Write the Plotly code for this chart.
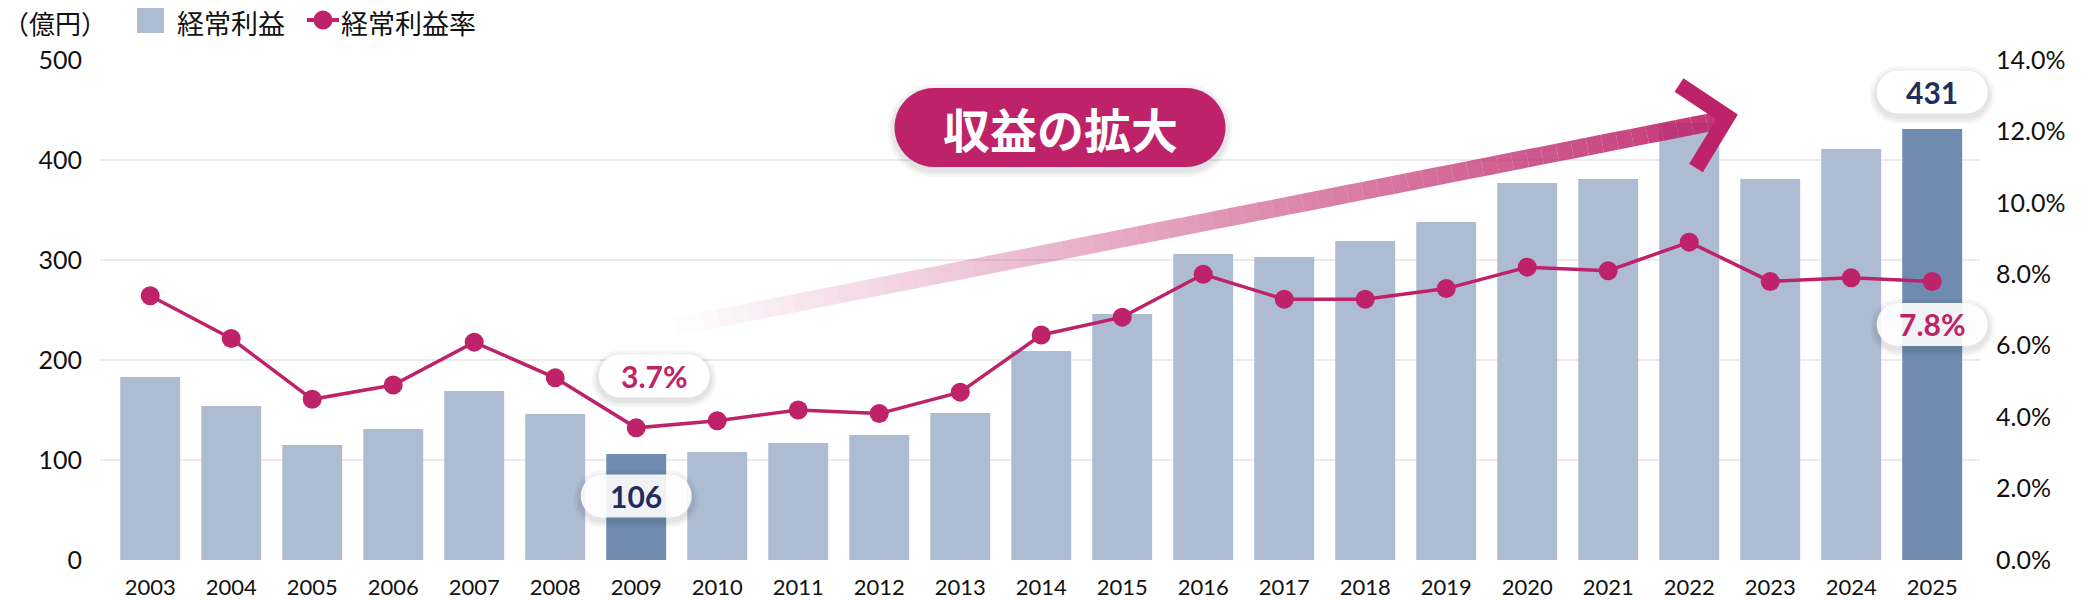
import numpy as np
import plotly.graph_objects as go

# ---- Données
years = [str(y) for y in range(2003, 2026)]
profit = [183, 154, 115, 131, 169, 146, 106, 108, 117, 125, 147, 209, 246,
          306, 303, 319, 338, 377, 381, 437, 381, 411, 431]
rate = [7.4, 6.2, 4.5, 4.9, 6.1, 5.1, 3.7, 3.9, 4.2, 4.1, 4.7, 6.3, 6.8,
        8.0, 7.3, 7.3, 7.6, 8.2, 8.1, 8.9, 7.8, 7.9, 7.8]
highlight = ['2009', '2025']

left_ticks = [0, 100, 200, 300, 400, 500]
right_ticks = [0, 2, 4, 6, 8, 10, 12, 14]
right_text = [f'{v:.1f}%' for v in right_ticks]

MAGENTA = '#BE2369'
NAVY = '#1F2D5C'
BAR = '#AEBCD3'
BAR_DARK = '#6F8CB0'
NUM_FONT = 'Lato, Noto Sans CJK JP, sans-serif'
JP_FONT = 'Noto Sans CJK JP, sans-serif'

# zone du graphique en pixels (coordonnées écran, la page ajoute 8 px de marge)
OFF = 8
W, H = 2100 - OFF, 600 - OFF
PL, PR, PT, PB = 100, 1980, 60, 560
XR = [-0.62, 22.59]


def paper(px, py):
    return (px - PL) / (PR - PL), (PB - py) / (PB - PT)


def xpix(i):
    return PL + (i - XR[0]) / (XR[1] - XR[0]) * (PR - PL)


def ypix_left(v):
    return PB - v / 500 * (PB - PT)


def ypix_right(p):
    return PB - p / 14 * (PB - PT)


def path_from(points):
    pts = [paper(x, y) for x, y in points]
    return 'M ' + ' L '.join(f'{a:.5f},{b:.5f}' for a, b in pts) + ' Z'


def pill_points(cx, cy, w, h):
    r = h / 2
    pts = []
    for a in np.linspace(-np.pi / 2, np.pi / 2, 24):
        pts.append((cx + w / 2 - r + r * np.cos(a), cy + r * np.sin(a)))
    for a in np.linspace(np.pi / 2, 3 * np.pi / 2, 24):
        pts.append((cx - w / 2 + r + r * np.cos(a), cy + r * np.sin(a)))
    return pts


shapes = []
annotations = []


def add_pill(cx, cy, w, h, color):
    # ombre
    for grow in [14, 9, 5]:
        shapes.append(dict(type='path', xref='paper', yref='paper', layer='above',
                           path=path_from(pill_points(cx, cy + 3, w + grow, h + grow)),
                           fillcolor='rgba(0,0,0,0.035)', line=dict(width=0)))
    shapes.append(dict(type='path', xref='paper', yref='paper', layer='above',
                       path=path_from(pill_points(cx, cy, w, h)),
                       fillcolor=color, line=dict(width=0)))


def text_at(px, py, txt, size, color, family, anchor='center'):
    x, y = paper(px, py)
    annotations.append(dict(xref='paper', yref='paper', x=x, y=y, text=txt,
                            xanchor=anchor, yanchor='middle', showarrow=False, borderpad=0,
                            font=dict(family=family, size=size, color=color)))


# ---- Flèche "収益の拡大"
start = np.array([674.0, 327.0])
end = np.array([1722.0, 120.0])
n_seg = 70
for k in range(n_seg):
    a = start + (end - start) * k / n_seg
    b = start + (end - start) * (k + 1) / n_seg
    alpha = 0.92 * (k + 0.5) / n_seg
    p0, p1 = paper(*a), paper(*b)
    shapes.append(dict(type='line', xref='paper', yref='paper', layer='above',
                       x0=p0[0], y0=p0[1], x1=p1[0], y1=p1[1],
                       line=dict(color=f'rgba(190,35,105,{alpha:.3f})', width=18)))

# pointe de la flèche (chevron)
A = np.array([1679.0, 85.0])
T = np.array([1727.0, 117.0])
B = np.array([1696.0, 168.0])
hw = 8.0
d1 = (T - A) / np.linalg.norm(T - A)
d2 = (B - T) / np.linalg.norm(B - T)
n1 = np.array([-d1[1], d1[0]])
n2 = np.array([-d2[1], d2[0]])
miter = (n1 + n2) / (1 + n1 @ n2)
head = [A + n1 * hw, T + miter * hw, B + n2 * hw, B - n2 * hw, T - miter * hw, A - n1 * hw]
shapes.append(dict(type='path', xref='paper', yref='paper', layer='above',
                   path=path_from([tuple(p) for p in head]),
                   fillcolor=MAGENTA, line=dict(width=0)))

# bulle titre
add_pill(1060, 127.5, 331, 79, MAGENTA)
text_at(1060, 127.5, '<b>収益の拡大</b>', 47, 'white', JP_FONT)

# ---- Etiquettes de valeurs
i09 = years.index('2009')
i25 = years.index('2025')
labels = [
    (xpix(i09), ypix_left(profit[i09]) + 42, f'{profit[i09]}', NAVY, 'rgba(255,255,255,0.9)'),
    (xpix(i09) + 18, ypix_right(rate[i09]) - 52, f'{rate[i09]:.1f}%', MAGENTA, 'white'),
    (xpix(i25), ypix_left(profit[i25]) - 37, f'{profit[i25]}', NAVY, 'white'),
    (xpix(i25), ypix_right(rate[i25]) + 43, f'{rate[i25]:.1f}%', MAGENTA, 'rgba(255,255,255,0.9)'),
]
for cx, cy, txt, col, bg in labels:
    add_pill(cx, cy, 111, 43, bg)
    text_at(cx, cy, f'<b>{txt}</b>', 30, col, NUM_FONT)

# ---- Légende manuelle
text_at(2, 23, '（億円）', 26, '#111', JP_FONT, anchor='left')
s0, s1 = paper(137, 6), paper(164, 33)
shapes.append(dict(type='rect', xref='paper', yref='paper', x0=s0[0], y0=s0[1], x1=s1[0], y1=s1[1],
                   fillcolor=BAR, line=dict(width=0)))
text_at(176, 23, '経常利益', 27, '#111', JP_FONT, anchor='left')
l0, l1 = paper(307, 20), paper(339, 20)
shapes.append(dict(type='line', xref='paper', yref='paper', x0=l0[0], y0=l0[1], x1=l1[0], y1=l1[1],
                   line=dict(color=MAGENTA, width=4)))
c0, c1 = paper(313.5, 10.5), paper(332.5, 29.5)
shapes.append(dict(type='circle', xref='paper', yref='paper', x0=c0[0], y0=c0[1], x1=c1[0], y1=c1[1],
                   fillcolor=MAGENTA, line=dict(width=0)))
text_at(340, 23, '経常利益率', 27, '#111', JP_FONT, anchor='left')

# ---- Graphique
bar_colors = [BAR_DARK if y in highlight else BAR for y in years]

fig = go.Figure()
fig.add_trace(go.Bar(x=years, y=profit, marker=dict(color=bar_colors, line=dict(width=0)),
                     name='経常利益', hoverinfo='x+y'))
fig.add_trace(go.Scatter(x=years, y=rate, yaxis='y2', mode='lines+markers', name='経常利益率',
                         line=dict(color=MAGENTA, width=3.5),
                         marker=dict(color=MAGENTA, size=19)))

fig.update_layout(
    template='none',
    width=W, height=H,
    margin=dict(l=PL - OFF, r=W - (PR - OFF), t=PT - OFF, b=H - (PB - OFF), autoexpand=False),
    plot_bgcolor='white', paper_bgcolor='white',
    showlegend=False,
    bargap=0.26,
    font=dict(family=NUM_FONT, color='#111'),
    xaxis=dict(type='category', range=XR, showgrid=False, zeroline=False, showline=False,
               automargin=False, ticks='outside', ticklen=8, tickcolor='rgba(0,0,0,0)',
               tickfont=dict(size=22, color='#111')),
    yaxis=dict(range=[0, 500], tickvals=left_ticks, showgrid=True, gridcolor='#EBEBEB', gridwidth=2,
               zeroline=False, showline=False, automargin=False, ticks='outside', ticklen=12,
               tickcolor='rgba(0,0,0,0)', tickfont=dict(size=25, color='#111')),
    yaxis2=dict(range=[0, 14], tickmode='array', tickvals=right_ticks, ticktext=right_text,
                overlaying='y', side='right', showgrid=False, zeroline=False, showline=False,
                automargin=False, ticks='outside', ticklen=10, tickcolor='rgba(0,0,0,0)',
                tickfont=dict(size=25, color='#111')),
    shapes=shapes,
    annotations=annotations,
)

fig.write_html('out.html')
